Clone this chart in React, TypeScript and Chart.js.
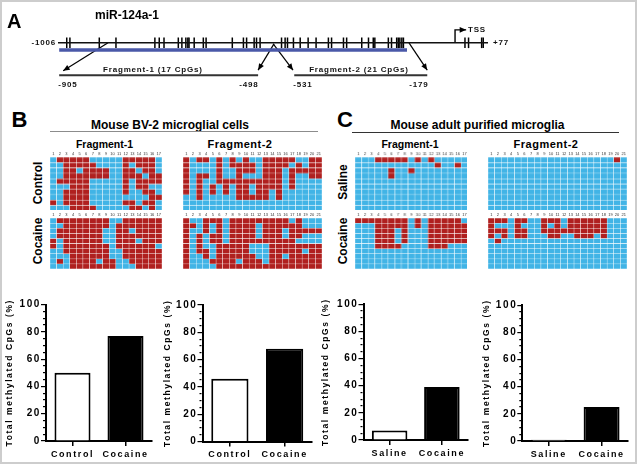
import React, { useEffect, useRef } from "react";
import { Chart, registerables } from "chart.js";

Chart.register(...registerables);

const FONT = "'Liberation Sans', Arial, Helvetica, sans-serif";
Chart.defaults.font.family = FONT;

// ---------------- DATA ----------------
// Panel A: CpG sites along the miR-124a-1 promoter (bp relative to TSS)
const GENE_RANGE = [-1006, 77];
const CPG_SITES = [
  -984, -976, -902, -860, -762, -751, -739, -703, -694, -684, -679, -676, -663, -640, -633,
  -567, -539, -531, -512, -506, -497, -443, -434, -428, -413, -396, -376, -356, -325, -317,
  -287, -279, -241, -224, -212, -208, -174, -166, -153, -149, -145, -140, -136, 19, 28, 61, 65,
];
const BLUE_REGION = [-1003, -127];
const FRAG1_SPAN = [-1003, -502];
const FRAG2_SPAN = [-411, -76];
const DIAGRAM_LABELS = [
  { text: "-1006", x: -1006, y: 0, align: "right" },
  { text: "+77", x: 77, y: 0, align: "left" },
  { text: "TSS", x: 14, y: -1.8, align: "left" },
  { text: "Fragment-1 (17 CpGs)", x: -767, y: 3.72, align: "center" },
  { text: "Fragment-2 (21 CpGs)", x: -248, y: 3.72, align: "center" },
  { text: "-905", x: -981, y: 5.88, align: "center" },
  { text: "-498", x: -525, y: 5.88, align: "center" },
  { text: "-531", x: -389, y: 5.88, align: "center" },
  { text: "-179", x: -97, y: 5.88, align: "center" },
];

// CpG numbering (grid headers)
const CPG_NUMS_F1 = ["1", "2", "3", "4", "5", "6", "7", "8", "9", "10", "11", "12", "13", "14", "15", "16", "17"];
const CPG_NUMS_F2 = ["1", "2", "3", "4", "5", "6", "7", "8", "9", "10", "11", "12", "13", "14", "15", "16", "17", "18", "19", "20", "21"];

// Methylation grids (1 = methylated / red, 0 = unmethylated / blue); one string per clone
const BV2_CONTROL_F1 = [
  "01111100000111110",
  "00111110000101110",
  "00110111100110110",
  "00111111100111011",
  "01111100000101111",
  "00011100000101100",
  "00111100000100110",
  "00111100000000011",
  "10111100000110110",
  "00011110000011010",
];
const BV2_CONTROL_F2 = [
  "101101010100111110011",
  "100001011110111101011",
  "100001001110111011111",
  "101101001000111010011",
  "101001111111111010000",
  "101010101101111010000",
  "101010101101101000000",
  "001000001111101000000",
  "000000000000000000000",
  "000000000000000000000",
];
const BV2_COCAINE_F1 = [
  "01111111100111111",
  "00111111101111111",
  "01111111001101111",
  "01111111001111111",
  "10111111001110111",
  "10111111101111110",
  "00111111100111111",
  "00011111100111111",
  "01011110110011111",
  "00011111110001111",
];
const BV2_COCAINE_F2 = [
  "100111011111111101000",
  "110101011110111111000",
  "100101011110111011111",
  "101011011110111011000",
  "101011011111111110000",
  "101001111100011111111",
  "101101111100011111011",
  "100101111110011011111",
  "100011110111011111111",
  "100001111111111111111",
];
const ADULT_SALINE_F1 = [
  "00011111010100000",
  "00000000000010010",
  "00000100100000000",
  "00000100000000000",
  "00000000000000000",
  "00000000000000000",
  "00000000000000000",
  "00000000000000000",
  "00000000000000000",
  "00000000000000000",
];
const ADULT_SALINE_F2 = [
  "000000000000000000010",
  "000000000000000000000",
  "000000000000000000000",
  "000000000000000000000",
  "000000000000000000000",
  "000000000000000000000",
  "000000000000000000000",
  "000000000000000000000",
  "000000000000000000000",
  "000000000000000000000",
];
const ADULT_COCAINE_F1 = [
  "11111111010111110",
  "00011111010111111",
  "00011101000111111",
  "00011101000111111",
  "00011101000111111",
  "00011110000111000",
  "00000000000000000",
  "00000000000000000",
  "00000000000000000",
  "00000000000000000",
];
const ADULT_COCAINE_F2 = [
  "111011001110111111000",
  "100010001010111111000",
  "111011001111111111000",
  "101011000110011101000",
  "010000000000000000000",
  "000000000000000000000",
  "000000000000000000000",
  "000000000000000000000",
  "000000000000000000000",
  "000000000000000000000",
];

// Bar charts: total methylated CpGs (%)
const BV2_GROUPS = ["Control", "Cocaine"];
const ADULT_GROUPS = ["Saline", "Cocaine"];
const BV2_F1_PCT = [50, 77];
const BV2_F2_PCT = [46, 68];
const ADULT_F1_PCT = [7, 39];
const ADULT_F2_PCT = [1, 25];
const Y_TITLE = "Total methylated CpGs (%)";

// ---------------- STYLE ----------------
const RED = "#b0201f";
const BLUE = "#41b4e6";

const spacingPlugin = (px: number) => ({
  id: "letterSpacingCtx",
  beforeDraw(chart: any) {
    chart.ctx.letterSpacing = px + "px";
  },
});

const diagramPlugin = {
  id: "diagramExtras",
  afterDatasetsDraw(chart: any) {
    const ctx = chart.ctx;
    const xs = chart.scales.x;
    const ys = chart.scales.y;
    ctx.save();
    chart.data.datasets.forEach((ds: any, i: number) => {
      if (!ds.arrow) return;
      const pts = chart.getDatasetMeta(i).data;
      const a = pts[pts.length - 2];
      const b = pts[pts.length - 1];
      const ang = Math.atan2(b.y - a.y, b.x - a.x);
      const L = 6.5;
      const W = 2.8;
      const c = Math.cos(ang);
      const s = Math.sin(ang);
      ctx.beginPath();
      ctx.moveTo(b.x, b.y);
      ctx.lineTo(b.x - L * c + W * s, b.y - L * s - W * c);
      ctx.lineTo(b.x - L * c - W * s, b.y - L * s + W * c);
      ctx.closePath();
      ctx.fillStyle = "#000";
      ctx.fill();
    });
    ctx.font = `bold 8px ${FONT}`;
    ctx.letterSpacing = "0.8px";
    ctx.fillStyle = "#111";
    ctx.textBaseline = "middle";
    DIAGRAM_LABELS.forEach((l) => {
      ctx.textAlign = l.align;
      const gap = l.align === "right" ? -2 : l.align === "left" ? 5 : 0;
      ctx.fillText(l.text, xs.getPixelForValue(l.x) + gap, ys.getPixelForValue(l.y));
    });
    ctx.restore();
  },
};

function lineDs(points: { x: number; y: number }[], color: string, width: number, arrow = false) {
  return {
    type: "scatter",
    data: points,
    showLine: true,
    borderColor: color,
    backgroundColor: color,
    borderWidth: width,
    pointRadius: 0,
    clip: false,
    arrow,
  };
}

function diagramConfig(): any {
  return {
    type: "scatter",
    data: {
      datasets: [
        lineDs([{ x: GENE_RANGE[0], y: 0 }, { x: GENE_RANGE[1], y: 0 }], "#111", 1.6),
        lineDs([{ x: BLUE_REGION[0], y: 1 }, { x: BLUE_REGION[1], y: 1 }], "#4a58a8", 3.6),
        lineDs([{ x: FRAG1_SPAN[0], y: 4.52 }, { x: FRAG1_SPAN[1], y: 4.52 }], "#333", 2),
        lineDs([{ x: FRAG2_SPAN[0], y: 4.52 }, { x: FRAG2_SPAN[1], y: 4.52 }], "#333", 2),
        lineDs([{ x: -880, y: 0 }, { x: FRAG1_SPAN[0] + 10, y: 3.88 }], "#000", 1.2, true),
        lineDs([{ x: -462, y: 0.15 }, { x: FRAG1_SPAN[1], y: 3.8 }], "#000", 1.2, true),
        lineDs([{ x: -464, y: 0.15 }, { x: FRAG2_SPAN[0] - 3, y: 3.8 }], "#000", 1.2, true),
        lineDs([{ x: -122, y: 0 }, { x: FRAG2_SPAN[1], y: 3.8 }], "#000", 1.2, true),
        lineDs([{ x: -6, y: 0 }, { x: -6, y: -1.8 }, { x: 22, y: -1.8 }], "#000", 1.4, true),
        {
          type: "scatter",
          data: CPG_SITES.map((p) => ({ x: p, y: 0 })),
          pointStyle: "line",
          rotation: 90,
          pointRadius: 5.3,
          borderWidth: 1.5,
          borderColor: "#000",
          clip: false,
        },
      ],
    },
    options: {
      animation: false,
      responsive: true,
      maintainAspectRatio: false,
      events: [],
      layout: { padding: { left: 58, right: 149, top: 0, bottom: 0 } },
      plugins: { legend: { display: false }, tooltip: { enabled: false } },
      scales: {
        x: { type: "linear", min: GENE_RANGE[0], max: GENE_RANGE[1], display: false },
        y: { type: "linear", min: -5, max: 7, reverse: true, display: false },
      },
    },
    plugins: [diagramPlugin],
  };
}

function gridConfig(labels: string[], rows: string[]): any {
  return {
    type: "bar",
    data: {
      labels,
      datasets: rows.map((r) => ({
        data: labels.map(() => 1),
        backgroundColor: r.split("").map((c) => (c === "1" ? RED : BLUE)),
        borderColor: "#ffffff",
        borderWidth: 0.5,
        borderSkipped: false,
        barPercentage: 1,
        categoryPercentage: 1,
      })),
    },
    options: {
      animation: false,
      responsive: true,
      maintainAspectRatio: false,
      events: [],
      layout: { padding: 0 },
      plugins: { legend: { display: false }, tooltip: { enabled: false } },
      scales: {
        x: {
          stacked: true,
          position: "top",
          grid: { display: false, drawTicks: false, tickLength: 0 },
          border: { display: false },
          ticks: { font: { size: 4 }, color: "#333", padding: 0.5, maxRotation: 0, autoSkip: false },
          afterFit: (s: any) => {
            s.height = 6;
          },
        },
        y: { stacked: true, display: false, min: 0, max: rows.length, reverse: true },
      },
    },
  };
}

function barConfig(
  labels: string[],
  values: number[],
  padTop: number,
  padRight: number,
  yWidth: number,
  xHeight: number
): any {
  return {
    type: "bar",
    data: {
      labels,
      datasets: [
        {
          data: values,
          backgroundColor: ["#ffffff", "#000000"],
          borderColor: "#000",
          borderWidth: 2,
          barPercentage: 0.68,
          categoryPercentage: 1,
        },
      ],
    },
    options: {
      animation: false,
      responsive: true,
      maintainAspectRatio: false,
      events: [],
      layout: { padding: { top: padTop, right: padRight, left: 0, bottom: 0 } },
      plugins: { legend: { display: false }, tooltip: { enabled: false } },
      scales: {
        x: {
          grid: { display: true, drawOnChartArea: false, offset: false, tickLength: 5, color: "#000", lineWidth: 1.5 },
          border: { display: true, color: "#000", width: 2 },
          ticks: { color: "#000", font: { size: 9, weight: "bold" }, padding: 3, maxRotation: 0, autoSkip: false },
          afterFit: (s: any) => {
            s.height = xHeight;
          },
        },
        y: {
          min: 0,
          max: 100,
          grid: {
            drawOnChartArea: false,
            tickLength: 5,
            color: "#000",
            lineWidth: 1.2,
            tickBorderDash: (c: any) => (c.tick && c.tick.value % 20 === 0 ? [] : [2, 2]),
            tickBorderDashOffset: (c: any) => (c.tick && c.tick.value % 20 === 0 ? 0 : 2),
          },
          border: { color: "#000", width: 2 },
          ticks: {
            stepSize: 5,
            autoSkip: false,
            color: "#000",
            font: { size: 10, weight: "bold" },
            padding: 0,
            callback: (v: any) => (Number(v) % 20 === 0 ? String(v) : ""),
          },
          title: {
            display: true,
            text: Y_TITLE,
            color: "#000",
            font: { size: 8.5, weight: "bold" },
            padding: { top: 5, bottom: 0 },
          },
          afterFit: (s: any) => {
            s.width = yWidth;
          },
        },
      },
    },
    plugins: [spacingPlugin(1.6)],
  };
}

// ---------------- COMPONENTS ----------------
function ChartBox({ x, y, w, h, make }: { x: number; y: number; w: number; h: number; make: () => any }) {
  const ref = useRef<HTMLCanvasElement>(null);
  useEffect(() => {
    const chart = new Chart(ref.current as HTMLCanvasElement, make());
    return () => chart.destroy();
  }, []);
  return (
    <div style={{ position: "absolute", left: x, top: y, width: w, height: h }}>
      <canvas ref={ref} />
    </div>
  );
}

function Txt({
  x,
  y,
  size,
  text,
  align = "left",
  spacing = 0,
}: {
  x: number;
  y: number;
  size: number;
  text: string;
  align?: string;
  spacing?: number;
}) {
  const style: any = {
    position: "absolute",
    top: y - 0.8465 * size,
    fontSize: size,
    lineHeight: `${size}px`,
    fontWeight: 700,
    whiteSpace: "nowrap",
    letterSpacing: spacing,
    color: "#000",
  };
  if (align === "center") {
    style.left = x - 150;
    style.width = 300;
    style.textAlign = "center";
  } else {
    style.left = x;
  }
  return <div style={style}>{text}</div>;
}

function VTxt({ cx, cy, size, text }: { cx: number; cy: number; size: number; text: string }) {
  return (
    <div
      style={{
        position: "absolute",
        left: cx,
        top: cy,
        transform: "translate(-50%, -50%) rotate(-90deg)",
        fontSize: size,
        lineHeight: `${size}px`,
        fontWeight: 700,
        whiteSpace: "nowrap",
        color: "#000",
      }}
    >
      {text}
    </div>
  );
}

export default function App() {
  return (
    <div
      style={{
        position: "absolute",
        left: 0,
        top: 0,
        width: 637,
        height: 464,
        background: "#fff",
        overflow: "hidden",
        fontFamily: FONT,
      }}
    >
      {/* Panel A diagram */}
      <ChartBox x={0} y={0} w={637} h={100} make={diagramConfig} />
      <Txt x={7} y={28} size={20} text="A" />
      <Txt x={127} y={19.3} size={12} text="miR-124a-1" align="center" />

      {/* Panel B */}
      <Txt x={11.5} y={128} size={22} text="B" />
      <Txt x={170} y={129.3} size={12} text="Mouse BV-2 microglial cells" align="center" />
      <div style={{ position: "absolute", left: 50, top: 130.5, width: 268, height: 1.5, background: "#8c8c8c" }} />
      <Txt x={104.5} y={148} size={10.5} text="Fragment-1" align="center" />
      <Txt x={240} y={148} size={11} text="Fragment-2" align="center" spacing={0.5} />
      <VTxt cx={38} cy={183} size={12} text="Control" />
      <VTxt cx={38} cy={241} size={12} text="Cocaine" />
      <ChartBox x={50} y={151.3} w={112} h={58.7} make={() => gridConfig(CPG_NUMS_F1, BV2_CONTROL_F1)} />
      <ChartBox x={182.7} y={151.3} w={139} h={58.7} make={() => gridConfig(CPG_NUMS_F2, BV2_CONTROL_F2)} />
      <ChartBox x={50} y={212.3} w={112} h={57} make={() => gridConfig(CPG_NUMS_F1, BV2_COCAINE_F1)} />
      <ChartBox x={182.7} y={212.3} w={139} h={57} make={() => gridConfig(CPG_NUMS_F2, BV2_COCAINE_F2)} />

      {/* Panel C */}
      <Txt x={337} y={128} size={22} text="C" />
      <Txt x={477.5} y={129.5} size={12} text="Mouse adult purified microglia" align="center" />
      <div style={{ position: "absolute", left: 352, top: 131.5, width: 267, height: 1.5, background: "#333" }} />
      <Txt x={410} y={148} size={10.5} text="Fragment-1" align="center" />
      <Txt x={546} y={148} size={11} text="Fragment-2" align="center" spacing={0.5} />
      <VTxt cx={343} cy={182} size={12} text="Saline" />
      <VTxt cx={343} cy={241} size={12} text="Cocaine" />
      <ChartBox x={355} y={151.3} w={111.7} h={58.7} make={() => gridConfig(CPG_NUMS_F1, ADULT_SALINE_F1)} />
      <ChartBox x={487.7} y={151.3} w={139} h={58.7} make={() => gridConfig(CPG_NUMS_F2, ADULT_SALINE_F2)} />
      <ChartBox x={355} y={212.3} w={111.7} h={57} make={() => gridConfig(CPG_NUMS_F1, ADULT_COCAINE_F1)} />
      <ChartBox x={487.7} y={212.3} w={139} h={57} make={() => gridConfig(CPG_NUMS_F2, ADULT_COCAINE_F2)} />

      {/* Bar charts */}
      <ChartBox x={0} y={294} w={160} h={166} make={() => barConfig(BV2_GROUPS, BV2_F1_PCT, 10.5, 8, 46, 19)} />
      <ChartBox x={158} y={294} w={162} h={166} make={() => barConfig(BV2_GROUPS, BV2_F2_PCT, 11, 8, 44.5, 18.5)} />
      <ChartBox x={316} y={294} w={160} h={166} make={() => barConfig(ADULT_GROUPS, ADULT_F1_PCT, 10.3, 8, 47.5, 20)} />
      <ChartBox x={477} y={294} w={159} h={166} make={() => barConfig(ADULT_GROUPS, ADULT_F2_PCT, 11.3, 8, 45.3, 19)} />

      {/* outer frame */}
      <div
        style={{
          position: "absolute",
          left: 0,
          top: 0,
          width: 637,
          height: 464,
          border: "2px solid #cdcdcd",
          boxSizing: "border-box",
          pointerEvents: "none",
        }}
      />
    </div>
  );
}
